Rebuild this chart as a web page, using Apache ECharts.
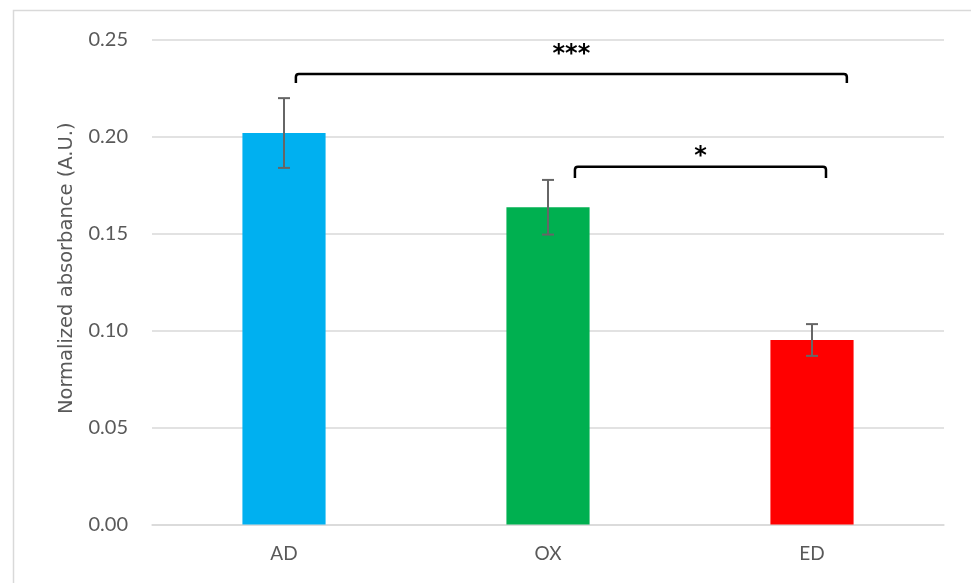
<!DOCTYPE html>
<html>
<head>
<meta charset="utf-8">
<script src="https://cdn.jsdelivr.net/npm/echarts@6/dist/echarts.min.js"></script>
<style>html,body{margin:0;padding:0;background:#fff}#c{width:971px;height:583px}</style>
</head>
<body>
<div id="c"></div>
<script>
var categories = ['AD', 'OX', 'ED'];
var means = [0.202, 0.1637, 0.0952];
var errors = [0.018, 0.0141, 0.0082];
var barColors = ['#00B0F0', '#00B050', '#FF0000'];
var yTicks = [0, 0.05, 0.10, 0.15, 0.20, 0.25];
// significance brackets: from/to category index + fractional offset of band, bracket y, tick bottom y, label y
var brackets = [
  { from: 0, fromOff: 0.045, to: 2, toOff: 0.132, y: 0.2325, yLow: 0.2278, labelY: 0.2422, label: '***' },
  { from: 1, fromOff: 0.102, to: 2, toOff: 0.053, y: 0.1846, yLow: 0.1788, labelY: 0.1897, label: '*' }
];

var chart = echarts.init(document.getElementById('c'), null, { renderer: 'canvas' });
var option = {
  animation: false,
  backgroundColor: '#fff',
  graphic: [{
    type: 'rect', silent: true, z: -10,
    shape: { x: 13.5, y: 10.5, width: 1000, height: 600 },
    style: { fill: 'none', stroke: '#d9d9d9', lineWidth: 1.5 }
  }],
  grid: { left: 152, right: 27, top: 40, bottom: 58.5 },
  xAxis: {
    type: 'category',
    data: categories,
    axisLine: { show: true, lineStyle: { color: '#d9d9d9', width: 1.5 } },
    axisTick: { show: false },
    axisLabel: { color: '#595959', fontFamily: 'Lato', fontSize: 19, margin: 20 }
  },
  yAxis: {
    type: 'value',
    min: yTicks[0], max: yTicks[yTicks.length - 1], interval: 0.05,
    name: 'Normalized absorbance (A.U.)',
    nameLocation: 'middle',
    nameGap: 75,
    nameTextStyle: { color: '#595959', fontFamily: 'DejaVu Sans', fontSize: 19.5, padding: [0, 0, 0, 28] },
    axisLine: { show: false },
    axisTick: { show: false },
    axisLabel: { color: '#595959', fontFamily: 'Lato', fontSize: 20, margin: 24,
      formatter: function (v) { return v.toFixed(2); } },
    splitLine: { lineStyle: { color: '#d9d9d9', width: 1.5 } }
  },
  series: [
    {
      type: 'bar',
      barWidth: '31.5%',
      data: means.map(function (v, i) { return { value: v, itemStyle: { color: barColors[i] } }; }),
      z: 2
    },
    {
      type: 'custom',
      z: 5,
      data: means.map(function (v, i) { return [i, v - errors[i], v + errors[i]]; }),
      renderItem: function (params, api) {
        var lo = api.coord([api.value(0), api.value(1)]);
        var hi = api.coord([api.value(0), api.value(2)]);
        var hw = 6;
        var st = { stroke: '#666666', lineWidth: 2, fill: 'none' };
        return { type: 'group', children: [
          { type: 'line', shape: { x1: lo[0], y1: lo[1], x2: hi[0], y2: hi[1] }, style: st },
          { type: 'line', shape: { x1: lo[0] - hw, y1: lo[1], x2: lo[0] + hw, y2: lo[1] }, style: st },
          { type: 'line', shape: { x1: hi[0] - hw, y1: hi[1], x2: hi[0] + hw, y2: hi[1] }, style: st }
        ]};
      }
    },
    {
      type: 'custom',
      z: 6,
      data: brackets.map(function (b) { return [b.from, b.fromOff, b.to, b.toOff, b.y, b.yLow, b.labelY]; }),
      renderItem: function (params, api) {
        var b = brackets[params.dataIndex];
        var band = api.size([1, 0])[0];
        var p1 = api.coord([b.from, b.y]);
        var p2 = api.coord([b.to, b.y]);
        var low = api.coord([b.from, b.yLow])[1];
        var lab = api.coord([b.from, b.labelY])[1];
        var x1 = p1[0] + b.fromOff * band;
        var x2 = p2[0] + b.toOff * band;
        var y = p1[1];
        var r = 3;
        var path = 'M' + x1 + ' ' + low + ' L' + x1 + ' ' + (y + r) + ' Q' + x1 + ' ' + y + ' ' + (x1 + r) + ' ' + y +
          ' L' + (x2 - r) + ' ' + y + ' Q' + x2 + ' ' + y + ' ' + x2 + ' ' + (y + r) + ' L' + x2 + ' ' + low;
        return { type: 'group', children: [
          { type: 'path', shape: { pathData: path }, style: { stroke: '#000', lineWidth: 2.5, fill: 'none', lineJoin: 'round' } },
          { type: 'text', style: { text: b.label, x: (x1 + x2) / 2, y: lab, align: 'center', verticalAlign: 'middle',
            fill: '#000', font: 'bold 24px "DejaVu Sans"' } }
        ]};
      }
    }
  ]
};
chart.setOption(option);
</script>
</body>
</html>
